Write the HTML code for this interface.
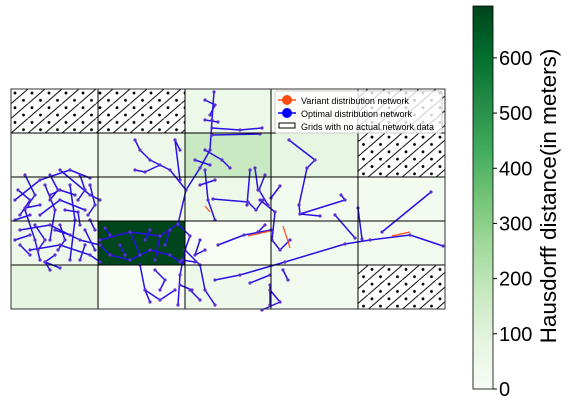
<!DOCTYPE html>
<html><head><meta charset="utf-8"><style>
body{margin:0;background:#fff;width:566px;height:410px;overflow:hidden;font-family:"Liberation Sans",sans-serif}
</style></head><body>
<svg width="566" height="410" xmlns="http://www.w3.org/2000/svg">
<defs>
<pattern id="hatch" patternUnits="userSpaceOnUse" width="17" height="14.7" patternTransform="translate(11,89)">
<rect width="17" height="14.7" fill="#fff"/>
<line x1="0" y1="14.7" x2="17" y2="0" stroke="#000" stroke-width="1"/>
<circle cx="4" cy="4" r="1.4" fill="#000"/><circle cx="12.5" cy="11.3" r="1.4" fill="#000"/>
</pattern>
<linearGradient id="greens" x1="0" y1="1" x2="0" y2="0">
<stop offset="0" stop-color="#f7fcf5"/><stop offset="0.125" stop-color="#e5f5e0"/><stop offset="0.25" stop-color="#c7e9c0"/><stop offset="0.375" stop-color="#a1d99b"/><stop offset="0.5" stop-color="#74c476"/><stop offset="0.625" stop-color="#41ab5d"/><stop offset="0.75" stop-color="#238b45"/><stop offset="0.875" stop-color="#006d2c"/><stop offset="1" stop-color="#00441b"/>
</linearGradient>
</defs>
<g id="cells"></g>
<g id="net" fill="none" stroke-linejoin="round">
<g id="blue" stroke="#2a10e8" stroke-width="1.5">
<path d="M100 240 L130 232 L160 236 L178 224 L186 190 L200 168 L210 150 L212 120 L214 92"/>
<path d="M186 190 L170 170 L150 160 L140 150 L135 140 M160 165 L145 172 L135 170 M180 150 L175 140 L180 180"/>
<path d="M178 224 L190 236 L185 250 L180 275 L178 305 M182 260 L195 262 M180 285 L192 290"/>
<path d="M185 250 L200 265 L205 290 L215 305 M200 240 L195 255 L205 250 M190 290 L200 300"/>
<path d="M212 128 L240 130 L262 128 M212 135 L260 134 M205 100 L215 105 L210 115 M205 120 L218 122"/>
<path d="M205 150 L222 160 L230 168 M205 170 L208 200 L215 220 M195 160 L210 165 M200 185 L215 180"/>
<path d="M213 199 L248 202 L256 210 L263 200 M250 170 L247 205 M265 175 L259 190 L268 205 M280 186 L271 198"/>
<path d="M260 200 L275 212 L272 240 L280 250 L290 240 M271 230 L244 235 L218 245 M265 225 L258 232"/>
<path d="M215 280 L240 275 L285 262 L345 244 L370 240 L410 235 L443 246"/>
<path d="M335 215 L355 238 M270 285 L270 305 M250 283 L270 275 M382 232 L431 192 M362 239 L358 208 M283 270 L288 280 M270 290 L280 302 L262 310"/>
<path d="M289 140 L315 160 L307 168 L299 205 L300 214 L345 200 L341 195 M300 214 L320 216 M255 168 L258 190"/>
<path d="M15 200 L40 180 L70 170 L90 178 M20 230 L50 225 L80 240 L100 245 M30 250 L60 245 L90 255 L100 262 M40 215 L60 200 L85 210 M45 185 L55 210 L50 240 M70 185 L75 220 L70 260 M25 210 L35 240 L40 260 M60 170 L90 195 L100 200 M15 220 L30 215 M85 230 L95 250"/>
<path d="M18 190 L30 200 L20 215 M25 175 L35 195 L28 205 M50 175 L58 190 L50 200 M80 175 L85 190 L78 200 M90 185 L95 205 L88 215 M35 225 L45 240 L38 250 M60 225 L65 240 L58 250 M85 245 L80 260 M55 255 L45 262 L50 270 M20 245 L30 255 M65 210 L78 212 L80 225 M30 235 L15 240 M40 205 L25 208 M55 230 L70 235 M75 195 L60 190 L50 195 M95 230 L90 220 M45 262 L60 268"/>
<path d="M100 245 L110 255 L130 260 L150 250 L170 255 L180 262 M130 232 L140 255 M160 236 L155 260 M110 235 L105 228 M120 245 L125 255 M145 240 L150 230 M170 230 L165 245"/>
<path d="M140 265 L145 290 L160 300 L175 290 M145 290 L150 302 M155 270 L165 280 L160 290"/>
</g>
<g stroke="#ff4a10" stroke-width="1.2"><path d="M248 236 L270 231 M283 226 L290 248 M392 236 L410 232 M210 212 L205 206"/></g>
<g id="dots" fill="#5a30d0"></g>
</g>
<g id="grid" stroke="#000" stroke-width="1">
<path d="M98 89V309M185 89V309M271 89V309M358 89V309M11 133H445M11 177H445M11 221H445M11 265H445"/>
<rect x="11" y="89" width="434" height="220" fill="none" stroke="#333"/>
</g>
<g font-size="9" fill="#000">
<rect x="275" y="91" width="167" height="42" fill="#fff" fill-opacity="0.8" stroke="#ccc" rx="2"/>
<line x1="278" y1="100" x2="296" y2="100" stroke="#ff4a10" stroke-width="1.5"/><circle cx="287" cy="100" r="5" fill="#ff4a10"/>
<text x="301" y="104">Variant distribution network</text>
<line x1="278" y1="113" x2="296" y2="113" stroke="#0000ff" stroke-width="1.5"/><circle cx="287" cy="113" r="5" fill="#0000ff"/>
<text x="301" y="117">Optimal distribution network</text>
<rect x="279" y="123" width="16" height="5" fill="#fff" stroke="#000"/>
<text x="301" y="130">Grids with no actual network data</text>
</g>
<g>
<rect x="473" y="6" width="20" height="383" fill="url(#greens)" stroke="#000" stroke-width="0.8"/>
<g id="cbticks" font-size="20" fill="#000"></g>
<text transform="translate(556,196) rotate(-90)" text-anchor="middle" font-size="22.5">Hausdorff distance(in meters)</text>
</g>
</svg>
<script>
const colEdges=[11,98,185,271,358,445];
const rowEdges=[89,133,177,221,265,309];
// cell values (meters); null = no actual network data
const row0=[null,null,55,0,null];
const row1=[20,45,170,80,null];
const row2=[35,35,50,20,20];
const row3=[45,690,0,30,25];
const row4=[85,0,40,25,null];
const cellValues=[row0,row1,row2,row3,row4];
const cbTicks=[0,100,200,300,400,500,600];
const cbMax=694;
const stops=[[247,252,245],[229,245,224],[199,233,192],[161,217,155],[116,196,118],[65,171,93],[35,139,69],[0,109,44],[0,68,27]];
function color(v){const t=Math.min(1,v/cbMax)*8;const i=Math.min(7,Math.floor(t)),f=t-i;const a=stops[i],b=stops[i+1];return `rgb(${a.map((x,k)=>Math.round(x+(b[k]-x)*f)).join(',')})`;}
const NS='http://www.w3.org/2000/svg';
const cells=document.getElementById('cells');
cellValues.forEach((row,r)=>row.forEach((v,c)=>{
const el=document.createElementNS(NS,'rect');
el.setAttribute('x',colEdges[c]);el.setAttribute('y',rowEdges[r]);
el.setAttribute('width',colEdges[c+1]-colEdges[c]);el.setAttribute('height',rowEdges[r+1]-rowEdges[r]);
el.setAttribute('fill',v===null?'url(#hatch)':color(v));


cells.appendChild(el);}));
// node markers at path vertices
const dots=document.getElementById('dots');
document.querySelectorAll('#blue path').forEach(p=>{
const nums=p.getAttribute('d').match(/-?\d+(\.\d+)?/g).map(Number);
for(let i=0;i<nums.length;i+=2){
const c=document.createElementNS(NS,'circle');
c.setAttribute('cx',nums[i]);c.setAttribute('cy',nums[i+1]);c.setAttribute('r',1.6);


dots.appendChild(c);}});
function yCb(v){return 389-v/cbMax*383;}
const tg=document.getElementById('cbticks');
cbTicks.forEach(t=>{
const l=document.createElementNS(NS,'line');
l.setAttribute('x1',493);l.setAttribute('x2',497);l.setAttribute('y1',yCb(t));l.setAttribute('y2',yCb(t));l.setAttribute('stroke','#000');


tg.appendChild(l);
const tx=document.createElementNS(NS,'text');
tx.setAttribute('x',499);tx.setAttribute('y',yCb(t)+7);tx.textContent=t;


tg.appendChild(tx);});
</script>
</body></html>
